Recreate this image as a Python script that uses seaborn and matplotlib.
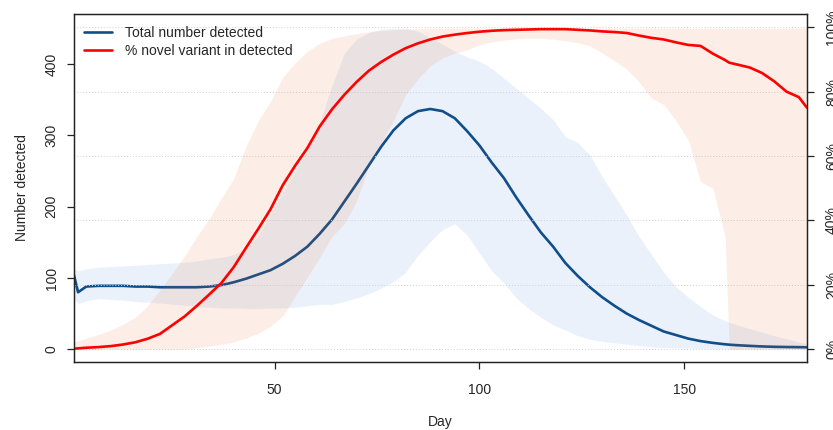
import numpy as np
import pandas as pd
import matplotlib
matplotlib.use("Agg")
import matplotlib.pyplot as plt
import seaborn as sns
from matplotlib.lines import Line2D

# Style
sns.set_theme(style="white")
plt.rcParams['font.family'] = ['Liberation Sans', 'DejaVu Sans']

# Values
days = [1, 2, 4, 7, 10, 13, 16, 19, 22, 25, 28, 31, 34, 37, 40, 43, 46, 49, 52, 55,
        58, 61, 64, 67, 70, 73, 76, 79, 82, 85, 88, 91, 94, 97, 100, 103, 106, 109,
        112, 115, 118, 121, 124, 127, 130, 133, 136, 139, 142, 145, 148, 151, 154,
        157, 160, 161, 163, 166, 169, 172, 175, 178, 180]

total_mean = [104, 80, 88, 89, 89, 89, 88, 88, 87, 87, 87, 87, 88, 90, 94, 99, 105, 111, 120, 131,
              144, 162, 182, 207, 232, 258, 284, 307, 324, 334, 337, 334, 324, 306, 286, 262, 240, 213,
              188, 164, 144, 121, 103, 87, 73, 61, 50, 41, 33, 25, 20, 15, 11.5,
              9, 7, 6.5, 5.7, 4.8, 4.0, 3.5, 3.2, 3.0, 2.8]

total_upper = [113, 110, 113, 115, 116, 117, 118, 119, 120, 121, 122, 124, 127, 129, 133, 140, 160, 189, 220, 250,
               278, 318, 370, 415, 435, 444, 449, 450, 450, 446, 437, 428, 418, 410, 404, 394, 380, 366,
               352, 338, 322, 298, 290, 272, 242, 215, 188, 158, 133, 108, 88, 73, 60,
               48, 40, 38, 34, 29, 24, 19, 15, 10, 8]

total_lower = [70, 64, 68, 71, 70, 69, 67, 66, 65, 63, 62, 60, 59, 58, 58, 57, 57, 58, 58, 59,
               61, 63, 63, 67, 72, 78, 86, 95, 108, 132, 151, 168, 176, 160, 135, 110, 93, 72,
               57, 45, 34, 27, 19, 14, 11, 9, 7, 5, 3.5, 2.5, 2, 1.5, 1,
               1, 0.5, 0.5, 0.5, 0.5, 0.5, 0.5, 0.5, 0.5, 0.5]

novel_mean = [0.2, 0.3, 0.5, 0.7, 1.0, 1.5, 2.2, 3.3, 4.8, 7.5, 10.2, 13.5, 17.0, 20.6, 25.5, 31.5, 37.4, 43.5, 51.0, 57.0,
              62.5, 69.2, 74.5, 79.0, 83.0, 86.5, 89.2, 91.5, 93.5, 95.0, 96.2, 97.1, 97.7, 98.2, 98.6, 98.9, 99.1, 99.2,
              99.3, 99.4, 99.4, 99.4, 99.2, 99.0, 98.7, 98.5, 98.2, 97.4, 96.7, 96.2, 95.3, 94.5, 94.2,
              91.8, 89.8, 89.0, 88.4, 87.5, 85.8, 83.2, 80.0, 78.3, 75.0]

novel_upper = [2.3, 2.6, 3.5, 4.6, 6.0, 7.8, 10.0, 13.5, 18.5, 23.5, 29.0, 35.0, 40.5, 47.0, 53.0, 63.0, 71.0, 77.0, 84.5, 89.0,
               92.5, 95.0, 96.5, 97.3, 98.0, 98.6, 99.0, 99.2, 99.4, 99.6, 99.7, 99.7, 99.7, 99.7, 99.7, 99.7, 99.7, 99.7,
               99.7, 99.7, 99.7, 99.7, 99.7, 99.7, 99.7, 99.7, 99.7, 99.7, 99.7, 99.7, 99.7, 99.7, 99.7,
               99.7, 99.7, 99.7, 99.7, 99.7, 99.7, 99.7, 99.7, 99.7, 100]

novel_lower = [0, 0, 0, 0, 0, 0, 0, 0, 0, 0, 0, 0.5, 1.0, 1.6, 2.3, 3.5, 5.0, 7.2, 10.4, 16.5,
               22.5, 28.5, 35.0, 39.0, 46.0, 57.0, 64.0, 71.0, 79.0, 84.0, 88.0, 90.5, 92.0, 93.0, 94.5, 95.5, 96.0, 96.4,
               96.6, 96.6, 96.3, 95.8, 95.2, 94.2, 92.0, 89.5, 87.0, 83.0, 78.0, 76.0, 71.0, 65.0, 52.0,
               50.0, 35.0, 0, 0, 0, 0, 0, 0, 0, 0]

pct_ticks = [0, 20, 40, 60, 80, 100]

df = pd.DataFrame({'day': days, 'total': total_mean, 'novel': novel_mean})

# Colors
blue_line = '#104E8B'
blue_fill = '#3a7bd5'
red_line = '#FF0000'
orange_fill = '#eb5a10'

fig = plt.figure(figsize=(8.33, 4.30), dpi=100)
ax = fig.add_axes([0.0888, 0.158, 0.8800, 0.8094])
ax2 = ax.twinx()

# Bands
ax.fill_between(days, total_lower, total_upper, color=blue_fill, alpha=0.1, linewidth=0)
ax2.fill_between(days, novel_lower, novel_upper, color=orange_fill, alpha=0.1, linewidth=0)

# Lines
sns.lineplot(data=df, x='day', y='total', ax=ax, color=blue_line, linewidth=1.9)
sns.lineplot(data=df, x='day', y='novel', ax=ax2, color=red_line, linewidth=1.9)

# Axes limits
ax.set_xlim(1, 180)
ax.set_ylim(-17.9, 470.2)
ax2.set_ylim(-3.95, 104.1)

# Grid from right axis
ax2.set_yticks(pct_ticks)
ax2.set_yticklabels([f"{p}%" for p in pct_ticks])
ax2.yaxis.grid(True, linestyle=(0, (1, 2)), color='#d0d0d0', linewidth=0.7)
ax.grid(False)
ax2.xaxis.grid(False)

ax.set_xticks([50, 100, 150])
ax.set_yticks([0, 100, 200, 300, 400])

for a in (ax, ax2):
    for s in a.spines.values():
        s.set_color('#222222')
        s.set_linewidth(0.9)

ax.tick_params(axis='x', direction='out', length=5, width=0.9, color='#222222',
               labelsize=10, pad=10, bottom=True)
ax.tick_params(axis='y', direction='out', length=5, width=0.9, color='#222222',
               labelsize=10, pad=6, left=True)
ax2.tick_params(axis='y', direction='out', length=5, width=0.9, color='#222222',
                labelsize=10, pad=8, right=True)
plt.setp(ax.get_yticklabels(), rotation=90, va='center')
plt.setp(ax2.get_yticklabels(), rotation=90, va='center')

ax.set_xlabel('Day', fontsize=10, labelpad=13)
ax.set_ylabel('Number detected', fontsize=10, labelpad=11)
ax2.set_ylabel('')

# Legend
handles = [Line2D([0], [0], color=blue_line, lw=1.9),
           Line2D([0], [0], color=red_line, lw=1.9)]
labels = ['Total number detected', '% novel variant in detected']
ax2.legend(handles, labels, loc='upper left', bbox_to_anchor=(0.014, 0.965),
           frameon=False, fontsize=10, handlelength=2.0, handletextpad=0.9,
           labelspacing=0.25, borderpad=0, borderaxespad=0)

fig.savefig('out.png', dpi=100)
